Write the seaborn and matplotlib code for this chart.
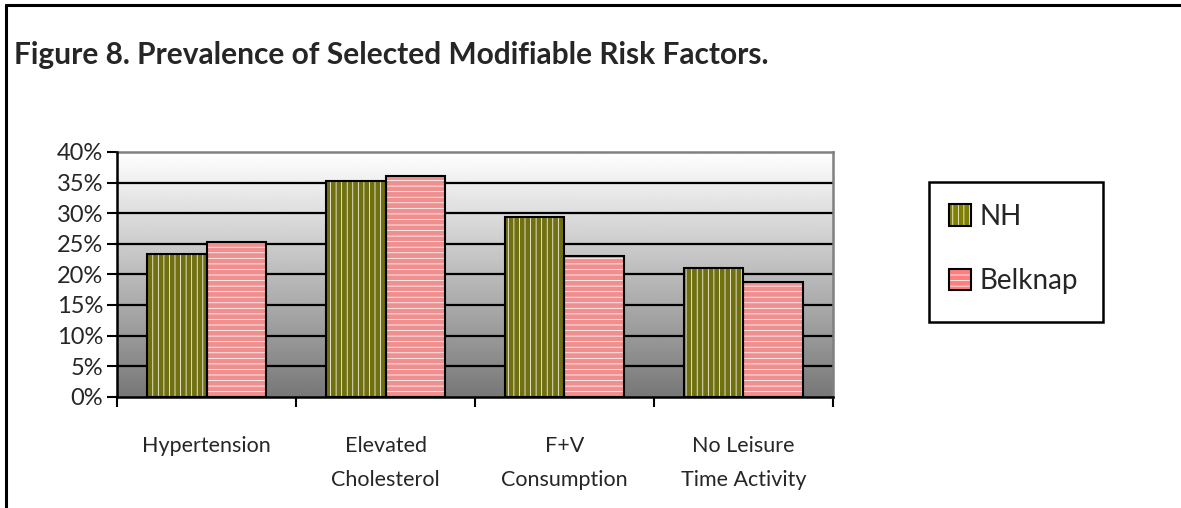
import numpy as np
import pandas as pd
import matplotlib
matplotlib.use("Agg")
import matplotlib.pyplot as plt
import seaborn as sns
from matplotlib.patches import Rectangle
from matplotlib.lines import Line2D
from matplotlib.ticker import PercentFormatter, FixedLocator
from matplotlib.legend_handler import HandlerTuple

categories = ["Hypertension", "Elevated\nCholesterol", "F+V\nConsumption", "No Leisure\nTime Activity"]
series = ["NH", "Belknap"]
nh_values = [0.234, 0.353, 0.293, 0.211]
belknap_values = [0.253, 0.361, 0.230, 0.188]
yticks = [0.0, 0.05, 0.10, 0.15, 0.20, 0.25, 0.30, 0.35, 0.40]
title = "Figure 8. Prevalence of Selected Modifiable Risk Factors."

colors = {"NH": "#808000", "Belknap": "#FF7F7F"}
hatches = {"NH": "|||", "Belknap": "---"}

df = pd.DataFrame({
    "category": categories * 2,
    "series": ["NH"] * 4 + ["Belknap"] * 4,
    "value": nh_values + belknap_values,
})

sns.set_theme(style="white")
plt.rcParams["font.family"] = ["Lato", "DejaVu Sans"]
plt.rcParams["hatch.linewidth"] = 0.55

fig = plt.figure(figsize=(11.81, 5.08), dpi=100)
ax = fig.add_axes([0.0991, 0.2191, 0.6062, 0.4817])

# gradient background (dark at bottom, white at top)
grad = np.linspace(0, 1, 256).reshape(-1, 1)
ax.imshow(grad, cmap=plt.cm.gray, vmin=-0.88, vmax=1.0, aspect="auto",
          extent=[0, 1, 0, 1], transform=ax.transAxes, zorder=0, origin="lower")

sns.barplot(data=df, x="category", y="value", hue="series", hue_order=series,
            palette=colors, width=0.67, edgecolor="white", linewidth=0,
            ax=ax, legend=False, zorder=3)

for container, s in zip(ax.containers, series):
    for p in container.patches:
        p.set_hatch(hatches[s])
        ax.add_patch(Rectangle(p.get_xy(), p.get_width(), p.get_height(),
                               fill=False, edgecolor="black", linewidth=1.5, zorder=4))

ax.set_xlim(-0.5, len(categories) - 0.5)
ax.set_ylim(0, 0.40)
ax.set_xlabel("")
ax.set_ylabel("")

# gridlines
ax.yaxis.set_major_locator(FixedLocator(yticks))
ax.yaxis.set_major_formatter(PercentFormatter(1.0, decimals=0))
for y in yticks[1:-1]:
    ax.axhline(y, color="black", linewidth=1.6, zorder=1)

# x ticks at boundaries, labels at centers
ax.set_xticks(np.arange(-0.5, len(categories), 1.0))
ax.set_xticklabels([])
ax.set_xticks(np.arange(len(categories)), minor=True)
ax.set_xticklabels(categories, minor=True, fontsize=15.5, linespacing=1.9)
ax.tick_params(axis="x", which="minor", length=0, pad=28)
ax.tick_params(axis="x", which="major", length=7, width=1.5, color="black", direction="out", bottom=True)
ax.tick_params(axis="y", length=7, width=1.5, color="black", direction="out", left=True, labelsize=17, pad=3)

for side in ["top", "right"]:
    ax.spines[side].set_color("#808080")
    ax.spines[side].set_linewidth(1.8)
for side in ["left", "bottom"]:
    ax.spines[side].set_color("black")
    ax.spines[side].set_linewidth(1.8)
    ax.spines[side].set_zorder(5)

# title
fig.text(0.012, 1 - 55 / 508, title, fontsize=21.5, fontweight="bold", va="center", ha="left")

# figure border (top and left)
fig.add_artist(Line2D([6 / 1181, 6 / 1181], [0, 1 - 5 / 508], color="black", linewidth=2.2, transform=fig.transFigure))
fig.add_artist(Line2D([6 / 1181, 1], [1 - 5 / 508, 1 - 5 / 508], color="black", linewidth=2.2, transform=fig.transFigure))

# legend frame
fig.add_artist(Rectangle((929 / 1181, 1 - 322 / 508), 174 / 1181, 140 / 508, fill=False,
                         edgecolor="black", linewidth=1.8, transform=fig.transFigure))
handles = []
for s in series:
    h_fill = Rectangle((0, 0), 1, 1, facecolor=colors[s], hatch=hatches[s], edgecolor="white", linewidth=0)
    h_edge = Rectangle((0, 0), 1, 1, fill=False, edgecolor="black", linewidth=1.5)
    handles.append((h_fill, h_edge))
leg = fig.legend(handles, series, loc="center left", bbox_to_anchor=(949 / 1181, 1 - 249 / 508),
                 frameon=False, fontsize=20, labelspacing=1.4, handlelength=0.8, handleheight=0.8,
                 handletextpad=0.3, borderpad=0, borderaxespad=0,
                 handler_map={tuple: HandlerTuple(ndivide=1)})

fig.savefig("out.png", dpi=100)
